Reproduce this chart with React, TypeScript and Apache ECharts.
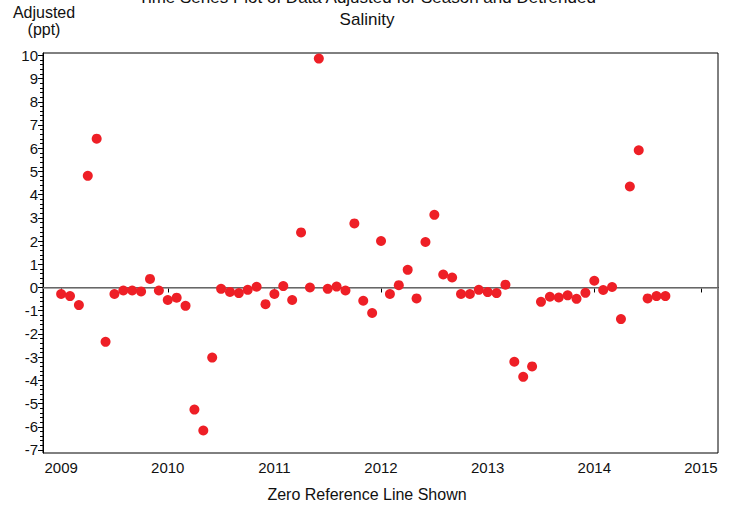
import React, { useEffect, useRef } from "react";
import * as echarts from "echarts";

const startYear = 2009;
const values2009 = [-0.28, -0.37, -0.76, 4.81, 6.41, -2.34, -0.28, -0.13, -0.13, -0.17, 0.37, -0.13];
const values2010 = [-0.54, -0.44, -0.79, -5.26, -6.16, -3.02, -0.06, -0.19, -0.24, -0.1, 0.03, -0.72];
const values2011 = [-0.28, 0.06, -0.54, 2.37, 0.0, 9.86, -0.06, 0.04, -0.13, 2.76, -0.57, -1.1];
const values2012 = [2.0, -0.28, 0.1, 0.76, -0.47, 1.96, 3.13, 0.56, 0.43, -0.28, -0.28, -0.1];
const values2013 = [-0.2, -0.24, 0.12, -3.2, -3.85, -3.4, -0.62, -0.4, -0.43, -0.34, -0.49, -0.23];
const values2014 = [0.29, -0.11, 0.02, -1.36, 4.35, 5.91, -0.47, -0.37, -0.37];

const xTickLabels = [2009, 2010, 2011, 2012, 2013, 2014, 2015];
const yTickLabels = [-7, -6, -5, -4, -3, -2, -1, 0, 1, 2, 3, 4, 5, 6, 7, 8, 9, 10];

const titleLine1 = "Time Series Plot of Data Adjusted for Season and Detrended";
const titleLine2 = "Salinity";
const yName1 = "Adjusted";
const yName2 = "(ppt)";
const xName = "Zero Reference Line Shown";

export default function App() {
  const ref = useRef<HTMLDivElement>(null);
  useEffect(() => {
    if (!ref.current) return;
    document.body.style.margin = "0";
    const chart = echarts.init(ref.current, undefined, { renderer: "svg" });
    const years = [values2009, values2010, values2011, values2012, values2013, values2014];
    const data: number[][] = [];
    years.forEach((arr, yi) => {
      arr.forEach((v, m) => data.push([startYear + yi + m / 12, v]));
    });
    const minorTicks: number[] = [];
    for (let i = 0; i < yTickLabels.length - 1; i++) {
      for (let k = 1; k < 5; k++) minorTicks.push(yTickLabels[i] + k * 0.2);
    }
    const font = "Liberation Sans";
    chart.setOption({
      animation: false,
      grid: {
        left: 43,
        right: 17,
        top: 53,
        bottom: 54,
        show: true,
        borderColor: "#000",
        borderWidth: 1,
        backgroundColor: "transparent",
      },
      xAxis: {
        type: "value",
        min: 2008.83,
        max: 2015.16,
        axisLine: { show: true, lineStyle: { color: "#000", width: 1 } },
        axisTick: { show: true, customValues: xTickLabels, length: 5, lineStyle: { color: "#000" } },
        axisLabel: {
          customValues: xTickLabels,
          formatter: (v: number) => String(Math.round(v)),
          color: "#111",
          fontSize: 15,
          fontFamily: font,
          margin: 7,
        },
        splitLine: { show: false },
      },
      yAxis: [
        {
          type: "value",
          min: -7.13,
          max: 10.1,
          axisLine: { show: true, lineStyle: { color: "#000", width: 1 } },
          axisTick: { show: true, customValues: yTickLabels, length: 5, lineStyle: { color: "#000" } },
          axisLabel: {
            customValues: yTickLabels,
            formatter: (v: number) => String(Math.round(v)),
            color: "#111",
            fontSize: 15,
            fontFamily: font,
            margin: 5,
          },
          splitLine: { show: false },
        },
        {
          type: "value",
          position: "left",
          min: -7.13,
          max: 10.1,
          axisLine: { show: false },
          axisTick: { show: true, customValues: minorTicks, length: 3, lineStyle: { color: "#000" } },
          axisLabel: { show: false },
          splitLine: { show: false },
        },
      ],
      graphic: [
        { type: "text", x: 367, y: -3, style: { text: titleLine1, textAlign: "center", textVerticalAlign: "middle", fontSize: 17, fontFamily: font, fill: "#111" } },
        { type: "text", x: 367, y: 19, style: { text: titleLine2, textAlign: "center", textVerticalAlign: "middle", fontSize: 17, fontFamily: font, fill: "#111" } },
        { type: "text", x: 44, y: 12, style: { text: yName1, textAlign: "center", textVerticalAlign: "middle", fontSize: 16, fontFamily: font, fill: "#111" } },
        { type: "text", x: 44, y: 29, style: { text: yName2, textAlign: "center", textVerticalAlign: "middle", fontSize: 16, fontFamily: font, fill: "#111" } },
        { type: "text", x: 367, y: 494, style: { text: xName, textAlign: "center", textVerticalAlign: "middle", fontSize: 16, fontFamily: font, fill: "#111" } },
      ],
      series: [
        {
          type: "scatter",
          data,
          symbol: "circle",
          symbolSize: 10,
          itemStyle: { color: "#EE1F26", opacity: 1 },
          markLine: {
            silent: true,
            symbol: ["none", "none"],
            label: { show: false },
            lineStyle: { color: "#8a8a8a", width: 1.5, type: "solid" },
            data: [{ yAxis: 0 }],
            z: 1,
          },
        },
      ],
    });
    return () => chart.dispose();
  }, []);
  return <div ref={ref} style={{ width: 735, height: 507 }} />;
}
